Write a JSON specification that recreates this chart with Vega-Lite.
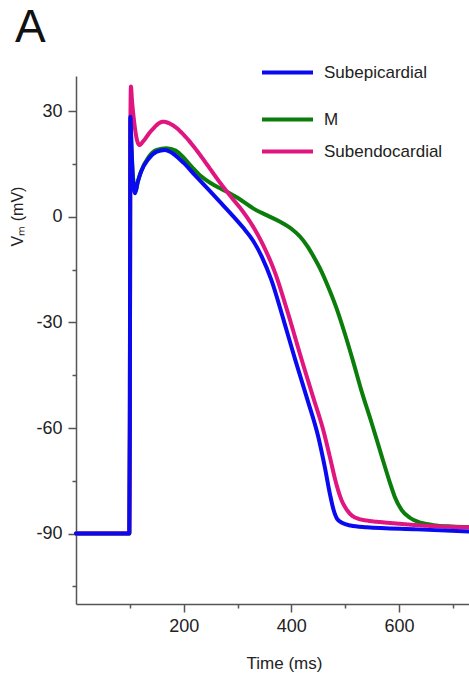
{
  "$schema": "https://vega.github.io/schema/vega-lite/v6.json",
  "width": 393,
  "height": 528,
  "autosize": {"type": "none"},
  "padding": {"left": 76, "top": 76, "right": 0, "bottom": 71},
  "background": "white",
  "title": {"text": "A", "anchor": "start", "frame": "group", "font": "Liberation Sans", "fontSize": 46, "fontWeight": "normal", "color": "#111", "dx": -61, "dy": 11},
  "config": {"view": {"stroke": null}},
  "data": {"values": [
    {"s":"Subepicardial","t":0,"v":-90},{"s":"Subepicardial","t":99,"v":-90},{"s":"Subepicardial","t":100,"v":-60},{"s":"Subepicardial","t":101,"v":28.4},{"s":"Subepicardial","t":103,"v":20},{"s":"Subepicardial","t":106,"v":10},{"s":"Subepicardial","t":110,"v":6.7},{"s":"Subepicardial","t":114,"v":9.5},{"s":"Subepicardial","t":120,"v":12.5},{"s":"Subepicardial","t":135,"v":16.5},{"s":"Subepicardial","t":150,"v":18.5},{"s":"Subepicardial","t":165,"v":19},{"s":"Subepicardial","t":180,"v":18},{"s":"Subepicardial","t":200,"v":15.3},{"s":"Subepicardial","t":221,"v":11.8},{"s":"Subepicardial","t":245,"v":7.9},{"s":"Subepicardial","t":267,"v":4.3},{"s":"Subepicardial","t":290,"v":0.5},{"s":"Subepicardial","t":310,"v":-3},{"s":"Subepicardial","t":329,"v":-6.8},{"s":"Subepicardial","t":345,"v":-11.3},{"s":"Subepicardial","t":363,"v":-18},{"s":"Subepicardial","t":385,"v":-29},{"s":"Subepicardial","t":407,"v":-40.5},{"s":"Subepicardial","t":430,"v":-52},{"s":"Subepicardial","t":450,"v":-62.5},{"s":"Subepicardial","t":462,"v":-71},{"s":"Subepicardial","t":472,"v":-79},{"s":"Subepicardial","t":478,"v":-83},{"s":"Subepicardial","t":485,"v":-85.8},{"s":"Subepicardial","t":495,"v":-87},{"s":"Subepicardial","t":510,"v":-87.7},{"s":"Subepicardial","t":540,"v":-88.2},{"s":"Subepicardial","t":633,"v":-88.8},{"s":"Subepicardial","t":730,"v":-89.4},
    {"s":"M","t":0,"v":-90},{"s":"M","t":99,"v":-90},{"s":"M","t":100,"v":-60},{"s":"M","t":101,"v":28},{"s":"M","t":103,"v":20},{"s":"M","t":106,"v":11},{"s":"M","t":111,"v":7.5},{"s":"M","t":115,"v":10},{"s":"M","t":121,"v":13},{"s":"M","t":135,"v":17},{"s":"M","t":150,"v":19},{"s":"M","t":168,"v":19.5},{"s":"M","t":185,"v":18.8},{"s":"M","t":200,"v":16.8},{"s":"M","t":215,"v":14.2},{"s":"M","t":230,"v":11.8},{"s":"M","t":250,"v":9.6},{"s":"M","t":265,"v":8.3},{"s":"M","t":282,"v":7},{"s":"M","t":300,"v":5.4},{"s":"M","t":329,"v":2.4},{"s":"M","t":355,"v":0.4},{"s":"M","t":379,"v":-1.4},{"s":"M","t":400,"v":-3.4},{"s":"M","t":416,"v":-5.6},{"s":"M","t":430,"v":-8.4},{"s":"M","t":441,"v":-11.2},{"s":"M","t":455,"v":-15.2},{"s":"M","t":466,"v":-19},{"s":"M","t":484,"v":-26},{"s":"M","t":500,"v":-33.5},{"s":"M","t":515,"v":-41.2},{"s":"M","t":530,"v":-49.3},{"s":"M","t":549,"v":-58.5},{"s":"M","t":560,"v":-64},{"s":"M","t":571,"v":-69.6},{"s":"M","t":582,"v":-75},{"s":"M","t":592,"v":-79.5},{"s":"M","t":605,"v":-83.3},{"s":"M","t":620,"v":-85.5},{"s":"M","t":640,"v":-86.9},{"s":"M","t":664,"v":-87.6},{"s":"M","t":700,"v":-88},{"s":"M","t":730,"v":-88.2},
    {"s":"Subendocardial","t":0,"v":-90},{"s":"Subendocardial","t":99,"v":-90},{"s":"Subendocardial","t":100,"v":-60},{"s":"Subendocardial","t":101,"v":25},{"s":"Subendocardial","t":102,"v":37},{"s":"Subendocardial","t":104,"v":33},{"s":"Subendocardial","t":108,"v":27},{"s":"Subendocardial","t":113,"v":22},{"s":"Subendocardial","t":118,"v":20.4},{"s":"Subendocardial","t":125,"v":21.5},{"s":"Subendocardial","t":140,"v":24.5},{"s":"Subendocardial","t":162,"v":27},{"s":"Subendocardial","t":180,"v":26},{"s":"Subendocardial","t":200,"v":23.3},{"s":"Subendocardial","t":221,"v":19.5},{"s":"Subendocardial","t":245,"v":14.5},{"s":"Subendocardial","t":267,"v":9.8},{"s":"Subendocardial","t":290,"v":5.3},{"s":"Subendocardial","t":310,"v":1.5},{"s":"Subendocardial","t":329,"v":-2.8},{"s":"Subendocardial","t":350,"v":-8.8},{"s":"Subendocardial","t":370,"v":-16},{"s":"Subendocardial","t":391,"v":-26},{"s":"Subendocardial","t":419,"v":-40.5},{"s":"Subendocardial","t":440,"v":-51},{"s":"Subendocardial","t":460,"v":-61},{"s":"Subendocardial","t":472,"v":-68.5},{"s":"Subendocardial","t":482,"v":-75},{"s":"Subendocardial","t":492,"v":-80},{"s":"Subendocardial","t":502,"v":-83},{"s":"Subendocardial","t":512,"v":-84.8},{"s":"Subendocardial","t":525,"v":-85.8},{"s":"Subendocardial","t":545,"v":-86.4},{"s":"Subendocardial","t":570,"v":-86.8},{"s":"Subendocardial","t":600,"v":-87.2},{"s":"Subendocardial","t":633,"v":-87.6},{"s":"Subendocardial","t":680,"v":-88},{"s":"Subendocardial","t":730,"v":-88.2}
  ]},
  "layer": [
    {
      "transform": [{"filter": "datum.s === 'M'"}],
      "mark": {"type": "line", "strokeWidth": 4, "strokeJoin": "round", "strokeCap": "round", "interpolate": "monotone"},
      "encoding": {
        "x": {"field": "t", "type": "quantitative", "scale": {"domain": [0, 730], "nice": false, "zero": false},
          "axis": {"values": [200, 400, 600], "title": "Time (ms)", "titleFont": "Liberation Sans", "titleFontSize": 17, "titleFontWeight": "normal", "titleColor": "#222", "titleX": 208, "titleY": 59, "titleBaseline": "middle", "titleAlign": "center",
            "labelFont": "Liberation Sans", "labelFontSize": 18, "labelColor": "#222", "labelPadding": 5, "tickSize": 8, "tickColor": "#555", "tickWidth": 1.5, "domainColor": "#555", "domainWidth": 1.5, "grid": false, "labelFlush": false}},
        "y": {"field": "v", "type": "quantitative", "scale": {"domain": [-110, 40], "nice": false, "zero": false},
          "axis": {"values": [-90, -60, -30, 0, 30], "labelExpr": "replace(datum.label, '−', '-')", "title": "Vₘ (mV)", "titleFont": "Liberation Sans", "titleFontSize": 16, "titleFontWeight": "normal", "titleColor": "#222", "titleX": -59, "titleY": 140, "titleBaseline": "middle", "titleAlign": "center",
            "labelFont": "Liberation Sans", "labelFontSize": 18, "labelColor": "#222", "labelPadding": 6, "tickSize": 8, "tickColor": "#555", "tickWidth": 1.5, "domainColor": "#555", "domainWidth": 1.5, "grid": false, "labelFlush": false}},
        "color": {"field": "s", "type": "nominal", "scale": {"domain": ["M"], "range": ["#0B7D0B"]},
          "legend": {"orient": "none", "legendX": 184, "legendY": 16, "title": null, "symbolType": "stroke", "symbolSize": 2601, "symbolStrokeWidth": 4, "labelFont": "Liberation Sans", "labelFontSize": 17, "labelColor": "#222", "labelOffset": 9, "padding": 0}}
      }
    },
    {
      "transform": [{"filter": "datum.s === 'Subendocardial'"}],
      "mark": {"type": "line", "stroke": "#E0157F", "strokeWidth": 4, "strokeJoin": "round", "strokeCap": "round", "interpolate": "monotone"},
      "encoding": {
        "x": {"field": "t", "type": "quantitative", "axis": null},
        "y": {"field": "v", "type": "quantitative", "axis": null},
        "strokeDash": {"field": "s", "type": "nominal", "scale": {"domain": ["Subendocardial"], "range": [[1, 0]]},
          "legend": {"orient": "none", "legendX": 184, "legendY": 48, "title": null, "symbolType": "stroke", "symbolSize": 2601, "symbolStrokeWidth": 4, "symbolStrokeColor": "#E0157F", "labelFont": "Liberation Sans", "labelFontSize": 17, "labelColor": "#222", "labelOffset": 9, "padding": 0}}
      }
    },
    {
      "transform": [{"filter": "datum.s === 'Subepicardial'"}],
      "mark": {"type": "line", "strokeWidth": 4, "strokeJoin": "round", "strokeCap": "round", "interpolate": "monotone"},
      "encoding": {
        "x": {"field": "t", "type": "quantitative",
          "axis": {"orient": "bottom", "values": [100, 300, 500, 700], "title": null, "labels": false, "domain": false, "grid": false, "tickSize": 4, "tickColor": "#555", "tickWidth": 1.5}},
        "y": {"field": "v", "type": "quantitative",
          "axis": {"orient": "left", "values": [-105, -75, -45, -15, 15], "title": null, "labels": false, "domain": false, "grid": false, "tickSize": 4, "tickColor": "#555", "tickWidth": 1.5}},
        "stroke": {"field": "s", "type": "nominal", "scale": {"domain": ["Subepicardial"], "range": ["#0A0AF0"]},
          "legend": {"orient": "none", "legendX": 184, "legendY": -31, "title": null, "symbolType": "stroke", "symbolSize": 2601, "symbolStrokeWidth": 4, "labelFont": "Liberation Sans", "labelFontSize": 17, "labelColor": "#222", "labelOffset": 9, "padding": 0}}
      }
    }
  ],
  "resolve": {"axis": {"x": "independent", "y": "independent"}, "scale": {"x": "shared", "y": "shared"}}
}
